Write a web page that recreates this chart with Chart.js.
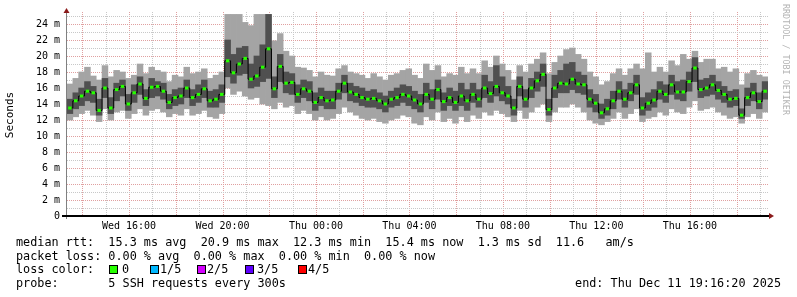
<!DOCTYPE html>
<html>
<head>
<meta charset="utf-8">
<script src="https://cdn.jsdelivr.net/npm/chart.js@4.4.1/dist/chart.umd.min.js"></script>
<style>
  body { margin: 0; background: #fff; }
  #wrap { position: relative; width: 797px; height: 297px; }
  .t { position: absolute; font-family: 'DejaVu Sans Mono', monospace; font-size: 11.8px; line-height: 14px; white-space: pre; color: #000; }
  .box { position: absolute; width: 7px; height: 7px; border: 1px solid #000; }
  #mark { position: absolute; left: 781px; top: 4px; writing-mode: vertical-rl; font-family: 'DejaVu Sans Mono', monospace; font-size: 8.4px; line-height: 10px; color: #b4b4b4; white-space: pre; }
</style>
</head>
<body>
<div id="wrap">
  <canvas id="chart" width="797" height="297"></canvas>
  <div id="mark">RRDTOOL / TOBI OETIKER</div>
  <div class="t" id="rttLine" style="left:16px; top:235px;"></div>
  <div class="t" id="lossLine" style="left:16px; top:248.5px;"></div>
  <div class="t" style="left:16px; top:262px;">loss color:</div>
  <div id="lossColors"></div>
  <div class="t" id="probeLine" style="left:16px; top:276px;"></div>
  <div class="t" id="endLine" style="right:16px; top:276px;"></div>
</div>
<script>
// time base: 30 hours up to Thu 19:16, in hours since Wed 00:00
const START_H = 13.345;
const SPAN_H = 30;
const STEP_H = 0.25;

// median rtt (ms) per step
const medianRtt = [
  13.5, 14.4, 15.0, 15.6, 15.4, 13.2, 16.0, 13.5, 15.8, 16.2,
  14.0, 15.4, 16.5, 14.7, 16.1, 16.2, 15.6, 14.2, 14.8, 15.0,
  16.0, 14.8, 15.2, 15.9, 14.4, 14.6, 15.2, 19.4, 17.9, 19.0,
  19.7, 17.1, 17.5, 18.6, 20.9, 15.9, 18.7, 16.6, 16.7, 15.2,
  15.9, 15.6, 14.2, 14.8, 14.4, 14.5, 15.6, 16.6, 15.5, 15.2,
  14.8, 14.6, 14.7, 14.4, 14.0, 14.6, 14.8, 15.2, 15.0, 14.5,
  14.0, 15.2, 14.6, 15.8, 14.3, 14.8, 14.2, 15.0, 14.4, 15.2,
  14.6, 16.0, 15.3, 16.2, 15.4, 15.0, 13.5, 16.2, 14.6, 16.0,
  16.9, 17.7, 13.3, 16.0, 16.6, 16.5, 17.1, 16.5, 16.4, 14.6,
  14.1, 12.9, 13.4, 14.4, 15.6, 14.6, 15.4, 16.4, 13.5, 14.1,
  14.5, 15.6, 15.2, 16.4, 15.5, 15.5, 16.8, 18.5, 15.8, 16.0,
  16.4, 15.7, 15.2, 14.6, 14.7, 12.6, 14.8, 15.4, 14.3, 15.6
];

// fastest ping (outer smoke, bottom)
const pingMin = [
  12.0, 12.4, 12.8, 13.2, 12.6, 11.8, 13.4, 12.0, 13.0, 13.2,
  12.2, 12.8, 13.4, 12.6, 13.2, 13.4, 13.0, 12.4, 12.8, 12.6,
  13.4, 12.6, 12.8, 13.2, 12.4, 12.2, 12.8, 16.0, 15.2, 15.6,
  15.0, 14.6, 14.8, 14.0, 13.8, 13.4, 14.2, 13.6, 13.8, 12.8,
  13.2, 12.8, 12.0, 12.4, 12.0, 12.2, 12.8, 13.6, 13.0, 12.6,
  12.2, 12.0, 12.2, 11.8, 11.6, 12.0, 12.2, 12.6, 12.4, 11.6,
  11.4, 12.4, 12.0, 13.0, 11.8, 12.2, 11.6, 12.4, 11.8, 12.6,
  12.2, 13.0, 12.6, 13.2, 12.8, 12.4, 11.8, 13.2, 12.2, 13.0,
  13.6, 14.0, 11.8, 13.0, 13.6, 13.6, 14.0, 13.6, 13.0, 12.0,
  11.6, 11.4, 11.8, 12.2, 13.0, 12.2, 12.8, 13.4, 11.8, 12.2,
  12.4, 13.0, 12.6, 13.4, 13.0, 12.8, 13.6, 14.4, 13.2, 13.4,
  13.6, 13.0, 12.6, 12.2, 12.4, 11.6, 12.4, 12.8, 12.2, 13.0
];

// 2nd ping (inner smoke, bottom)
const pingLow = [
  12.8, 13.4, 13.8, 14.4, 14.2, 12.6, 14.8, 12.8, 14.4, 15.0,
  13.2, 14.2, 15.2, 13.8, 14.8, 15.0, 14.6, 13.4, 13.8, 14.0,
  14.8, 13.8, 14.2, 14.8, 13.6, 13.6, 14.2, 17.4, 16.6, 17.6,
  17.8, 16.0, 16.2, 16.8, 17.2, 14.8, 16.8, 15.4, 15.2, 14.2,
  14.8, 14.4, 13.2, 13.8, 13.4, 13.4, 14.6, 15.4, 14.4, 14.2,
  13.8, 13.6, 13.6, 13.4, 13.0, 13.6, 13.8, 14.2, 13.8, 13.4,
  13.0, 14.2, 13.4, 14.6, 13.2, 13.8, 13.2, 13.8, 13.2, 14.2,
  13.6, 14.8, 14.2, 15.0, 14.4, 14.0, 12.6, 15.0, 13.6, 14.8,
  15.6, 16.2, 12.6, 14.8, 15.4, 15.4, 15.8, 15.4, 15.2, 13.6,
  13.0, 12.2, 12.6, 13.4, 14.6, 13.6, 14.4, 15.2, 12.6, 13.2,
  13.6, 14.6, 14.2, 15.2, 14.6, 14.4, 15.6, 16.8, 14.8, 15.0,
  15.2, 14.6, 14.2, 13.6, 13.8, 12.2, 13.8, 14.4, 13.4, 14.6
];

// 4th ping (inner smoke, top)
const pingHigh = [
  14.6, 15.4, 16.0, 16.8, 16.2, 14.6, 17.2, 14.8, 16.6, 17.0,
  15.2, 16.4, 17.4, 15.8, 17.2, 16.8, 16.6, 15.2, 15.8, 16.0,
  17.0, 15.8, 16.4, 17.0, 15.6, 15.8, 16.4, 22.0, 20.2, 21.0,
  21.2, 19.0, 20.0, 21.4, 25.2, 17.4, 20.2, 18.0, 17.8, 16.4,
  17.0, 16.8, 15.4, 16.0, 15.6, 15.6, 16.6, 17.6, 16.6, 16.2,
  16.0, 15.6, 15.8, 15.4, 15.0, 15.6, 16.0, 16.4, 16.2, 15.6,
  15.2, 16.6, 15.8, 17.0, 15.4, 16.0, 15.6, 16.6, 15.8, 16.6,
  15.8, 17.6, 16.8, 18.8, 17.4, 16.2, 14.6, 17.4, 15.8, 17.2,
  18.0, 19.0, 14.6, 17.6, 18.2, 19.0, 19.2, 18.0, 17.6, 15.8,
  15.2, 14.0, 14.6, 15.6, 16.8, 15.8, 16.6, 17.6, 14.8, 15.4,
  15.8, 16.8, 16.4, 17.6, 16.8, 17.0, 18.0, 19.8, 17.0, 17.2,
  17.6, 16.8, 16.2, 15.6, 15.8, 13.4, 16.0, 16.6, 15.4, 16.8
];

// slowest ping (outer smoke, top)
const pingMax = [
  16.5, 17.2, 18.0, 18.6, 17.5, 17.0, 18.8, 17.4, 18.2, 18.0,
  17.2, 17.6, 19.0, 17.8, 18.6, 18.2, 18.0, 16.8, 17.6, 17.4,
  18.6, 17.8, 18.0, 18.4, 17.2, 17.6, 18.0, 25.2, 25.2, 25.2,
  24.2, 23.8, 25.2, 25.2, 25.2, 21.9, 22.8, 20.6, 20.0, 18.6,
  18.5, 18.2, 17.4, 18.0, 17.6, 17.5, 18.4, 18.8, 18.0, 17.8,
  17.6, 17.2, 17.8, 17.4, 17.0, 17.6, 17.8, 18.2, 18.4, 17.6,
  17.2, 19.0, 18.2, 18.8, 17.4, 17.8, 17.6, 18.6, 17.8, 18.4,
  17.8, 19.4, 18.6, 20.0, 19.0, 18.2, 17.0, 18.8, 18.0, 19.0,
  19.6, 20.4, 17.8, 19.2, 20.0, 20.8, 21.0, 20.2, 19.6, 18.0,
  17.4, 16.4, 16.8, 17.8, 18.4, 17.6, 18.4, 19.0, 18.4, 20.4,
  18.0, 18.6, 18.0, 19.4, 18.8, 20.2, 19.6, 20.6, 19.2, 19.6,
  19.6, 18.4, 18.6, 18.0, 18.4, 16.4, 17.8, 18.2, 17.6, 17.4
];

const yTicks = [0, 1, 2, 3, 4, 5, 6, 7, 8, 9, 10, 11, 12, 13, 14, 15, 16, 17, 18, 19, 20, 21, 22, 23, 24, 25];
const dayNames = ['Wed', 'Thu'];

const rttStats = ['15.3 ms avg', '20.9 ms max', '12.3 ms min', '15.4 ms now', '1.3 ms sd', '11.6   am/s'];
const lossStats = ['0.00 % avg', '0.00 % max', '0.00 % min', '0.00 % now'];
const lossLabels = ['0', '1/5', '2/5', '3/5', '4/5'];
const lossColors = ['#26ff00', '#00b8ff', '#d400ff', '#5e00ff', '#ff0000'];
const boxLeft = [109, 150, 197, 245, 298];
const labelLeft = [122, 160, 207, 257, 308];

// legend text
document.getElementById('rttLine').textContent = 'median rtt:  ' + rttStats.join('  ');
document.getElementById('lossLine').textContent = 'packet loss: ' + lossStats.join('  ');
document.getElementById('probeLine').textContent = 'probe:       5 SSH requests every 300s';
document.getElementById('endLine').textContent = 'end: Thu Dec 11 19:16:20 2025';

const lossHolder = document.getElementById('lossColors');
lossLabels.forEach((lbl, i) => {
    const b = document.createElement('div');
    b.className = 'box';
    b.style.left = boxLeft[i] + 'px';
    b.style.top = '265px';
    b.style.background = lossColors[i];
    lossHolder.appendChild(b);
    const t = document.createElement('div');
    t.className = 't';
    t.style.left = labelLeft[i] + 'px';
    t.style.top = '262px';
    t.textContent = lbl;
    lossHolder.appendChild(t);
});

// build x positions (centre of each step)
const times = medianRtt.map((_, i) => START_H + STEP_H * (i + 0.5));
const outerSmoke = times.map((x, i) => ({ x: x, y: [pingMin[i], pingMax[i]] }));
const innerSmoke = times.map((x, i) => ({ x: x, y: [pingLow[i], pingHigh[i]] }));
const medianLine = times.map((x, i) => ({ x: x, y: medianRtt[i] }));
const medianMarks = times.map((x, i) => ({ x: x, y: [medianRtt[i] - 0.19, medianRtt[i] + 0.19] }));

const hourTicks = [];
for (let h = Math.ceil(START_H); h <= START_H + SPAN_H; h++) hourTicks.push(h);

const MAJOR = '#e0a0a0';
const MINOR = '#c8c8c8';

// dotted rrdtool style grid, drawn under the smoke
const gridPlugin = {
    id: 'gridPlugin',
    beforeDatasetsDraw(chart) {
        const { ctx, chartArea: a, scales } = chart;
        ctx.save();
        ctx.lineWidth = 1;
        ctx.setLineDash([1, 1]);
        hourTicks.forEach(h => {
            const px = Math.round(scales.x.getPixelForValue(h)) + 0.5;
            ctx.strokeStyle = h % 2 === 0 ? MAJOR : MINOR;
            ctx.beginPath();
            ctx.moveTo(px, a.top - 2);
            ctx.lineTo(px, a.bottom);
            ctx.stroke();
        });
        yTicks.forEach(v => {
            if (v === 0) return;
            const py = Math.round(scales.y.getPixelForValue(v)) + 0.5;
            ctx.strokeStyle = v % 2 === 0 ? MAJOR : MINOR;
            ctx.beginPath();
            ctx.moveTo(a.left, py);
            ctx.lineTo(a.right, py);
            ctx.stroke();
        });
        ctx.restore();
    }
};

// axis lines and arrows
const axisPlugin = {
    id: 'axisPlugin',
    afterDraw(chart) {
        const { ctx, chartArea: a } = chart;
        ctx.save();
        ctx.strokeStyle = '#808080';
        ctx.lineWidth = 1;
        ctx.beginPath();
        ctx.moveTo(a.left - 0.5, 12);
        ctx.lineTo(a.left - 0.5, a.bottom + 3);
        ctx.stroke();
        ctx.strokeStyle = '#000';
        ctx.lineWidth = 2;
        ctx.beginPath();
        ctx.moveTo(a.left - 5, a.bottom);
        ctx.lineTo(a.right + 3, a.bottom);
        ctx.stroke();
        ctx.fillStyle = '#8b1a1a';
        ctx.beginPath();
        ctx.moveTo(a.left - 3.5, 13);
        ctx.lineTo(a.left + 2.5, 13);
        ctx.lineTo(a.left - 0.5, 8);
        ctx.closePath();
        ctx.fill();
        ctx.beginPath();
        ctx.moveTo(a.right + 1, a.bottom - 3);
        ctx.lineTo(a.right + 1, a.bottom + 3);
        ctx.lineTo(a.right + 6, a.bottom);
        ctx.closePath();
        ctx.fill();
        ctx.restore();
    }
};

const ctx = document.getElementById('chart').getContext('2d');
new Chart(ctx, {
    type: 'bar',
    data: {
        datasets: [
            {
                data: outerSmoke,
                backgroundColor: '#a4a4a4',
                grouped: false,
                barPercentage: 1,
                categoryPercentage: 1,
                order: 4
            },
            {
                data: innerSmoke,
                backgroundColor: '#505050',
                grouped: false,
                barPercentage: 1,
                categoryPercentage: 1,
                order: 3
            },
            {
                type: 'line',
                data: medianLine,
                borderColor: '#000',
                borderWidth: 1,
                stepped: 'middle',
                pointRadius: 0,
                order: 2
            },
            {
                data: medianMarks,
                backgroundColor: '#26ff00',
                grouped: false,
                barPercentage: 0.6,
                categoryPercentage: 1,
                order: 1
            }
        ]
    },
    options: {
        responsive: false,
        devicePixelRatio: 1,
        animation: false,
        layout: { padding: { top: 14, right: 29, left: 0, bottom: 0 } },
        plugins: {
            legend: { display: false },
            tooltip: { enabled: false }
        },
        scales: {
            x: {
                type: 'linear',
                min: START_H,
                max: START_H + SPAN_H,
                offset: false,
                afterFit: (scale) => { scale.height = 81; },
                afterBuildTicks: (scale) => { scale.ticks = hourTicks.map(v => ({ value: v })); },
                border: { display: false },
                grid: { display: false, drawTicks: false },
                ticks: {
                    autoSkip: false,
                    maxRotation: 0,
                    padding: 4,
                    color: '#000',
                    font: { family: 'DejaVu Sans Mono', size: 10 },
                    callback: (v) => {
                        if (v % 4 !== 0) return '';
                        const day = dayNames[v < 24 ? 0 : 1];
                        return day + ' ' + String(v % 24).padStart(2, '0') + ':00';
                    }
                }
            },
            y: {
                min: 0,
                max: 25.25,
                afterFit: (scale) => { scale.width = 67; },
                afterBuildTicks: (scale) => { scale.ticks = yTicks.map(v => ({ value: v })); },
                border: { display: false },
                grid: { display: false, drawTicks: false },
                title: {
                    display: true,
                    text: 'Seconds',
                    color: '#000',
                    padding: { top: 4, bottom: 0 },
                    font: { family: 'DejaVu Sans Mono', size: 11 }
                },
                ticks: {
                    padding: 7,
                    color: '#000',
                    font: { family: 'DejaVu Sans Mono', size: 10 },
                    callback: (v) => v % 2 !== 0 ? '' : (v === 0 ? '0' : v + ' m')
                }
            }
        }
    },
    plugins: [gridPlugin, axisPlugin]
});
</script>
</body>
</html>
